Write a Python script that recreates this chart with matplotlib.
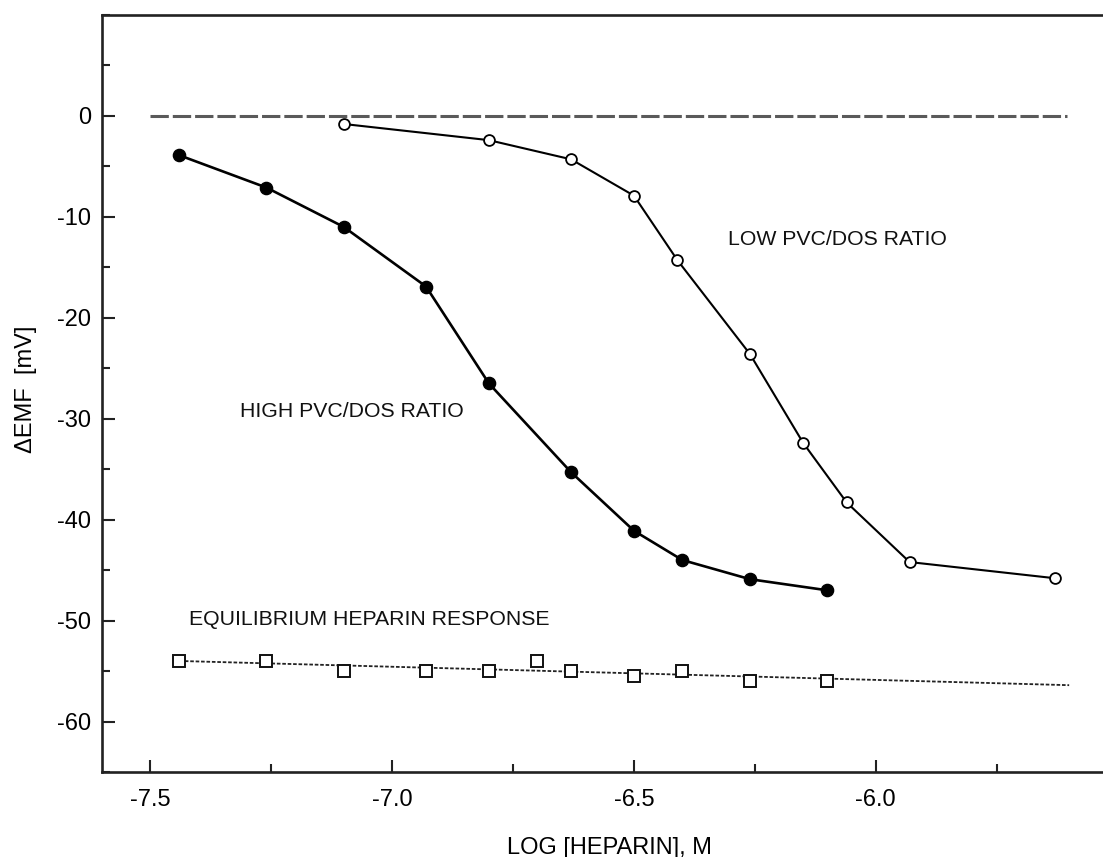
import matplotlib
matplotlib.use("Agg")
import matplotlib.pyplot as plt
from matplotlib.ticker import MultipleLocator

plt.rcParams['font.family'] = ['Liberation Sans', 'DejaVu Sans']
plt.rcParams['axes.unicode_minus'] = False

# High PVC/DOS ratio membrane (filled circles)
high_x = [-7.44, -7.26, -7.10, -6.93, -6.80, -6.63, -6.50, -6.40, -6.26, -6.10]
high_y = [-3.9, -7.1, -11.0, -16.9, -26.5, -35.3, -41.1, -44.0, -45.9, -47.0]

# Low PVC/DOS ratio membrane (open circles)
low_x = [-7.10, -6.80, -6.63, -6.50, -6.41, -6.26, -6.15, -6.06, -5.93, -5.63]
low_y = [-0.8, -2.4, -4.3, -7.9, -14.3, -23.6, -32.4, -38.3, -44.2, -45.8]

# Equilibrium heparin response (open squares) and its fitted trend
eq_x = [-7.44, -7.26, -7.10, -6.93, -6.80, -6.70, -6.63, -6.50, -6.40, -6.26, -6.10]
eq_y = [-54.0, -54.0, -55.0, -55.0, -55.0, -54.0, -55.0, -55.5, -55.0, -56.0, -56.0]
fit_x = [-7.44, -5.60]
fit_y = [-54.0, -56.4]

# Zero reference line
zero_x = [-7.50, -5.605]
zero_y = [0.0, 0.0]

x_ticks = [-7.5, -7.0, -6.5, -6.0]
x_ticklabels = ["-7.5", "-7.0", "-6.5", "-6.0"]
y_ticks = [0, -10, -20, -30, -40, -50, -60]

fig = plt.figure(figsize=(11.03, 8.57), dpi=100)
ax = fig.add_axes([0.0925, 0.0992, 0.9075, 0.8833])

ax.plot(zero_x, zero_y, color="#5a5a5a", lw=2.2, dashes=(6, 1.3))
ax.plot(fit_x, fit_y, color="#222222", lw=1.3, linestyle=(0, (2, 1.0)))
ax.plot(eq_x, eq_y, linestyle="none", marker="s", ms=8, mfc="white",
        mec="#111111", mew=1.4)
ax.plot(high_x, high_y, color="black", lw=1.9, marker="o", ms=8.8,
        mfc="black", mec="black")
ax.plot(low_x, low_y, color="black", lw=1.5, marker="o", ms=7.8,
        mfc="white", mec="black", mew=1.3)

ax.text(-6.305, -12.2, "LOW PVC/DOS RATIO", fontsize=15.3, va="center",
        ha="left", color="#111111")
ax.text(-7.315, -29.3, "HIGH PVC/DOS RATIO", fontsize=15.3, va="center",
        ha="left", color="#111111")
ax.text(-7.42, -49.9, "EQUILIBRIUM HEPARIN RESPONSE", fontsize=15.3,
        va="center", ha="left", color="#111111")

ax.set_xlim(-7.6, -5.53)
ax.set_ylim(-65, 10)
ax.set_xticks(x_ticks)
ax.set_xticklabels(x_ticklabels)
ax.set_yticks(y_ticks)
ax.xaxis.set_minor_locator(MultipleLocator(0.25))
ax.yaxis.set_minor_locator(MultipleLocator(5))
ax.tick_params(which="both", direction="in", top=False, right=False,
               labelsize=17, width=1.5, color="#222222")
ax.tick_params(axis="x", which="both", pad=12)
ax.tick_params(axis="y", which="both", pad=8)
ax.tick_params(which="major", length=9)
ax.tick_params(which="minor", length=6)

for side in ["left", "bottom", "top"]:
    ax.spines[side].set_linewidth(1.9)
    ax.spines[side].set_color("#222222")
ax.spines["right"].set_visible(False)

ax.set_xlabel("LOG [HEPARIN], M", fontsize=17)
ax.xaxis.set_label_coords(0.507, -0.086)
ax.set_ylabel("\u0394EMF  [mV]", fontsize=17)
ax.yaxis.set_label_coords(-0.065, 0.505)

fig.savefig("out.png", dpi=100)
